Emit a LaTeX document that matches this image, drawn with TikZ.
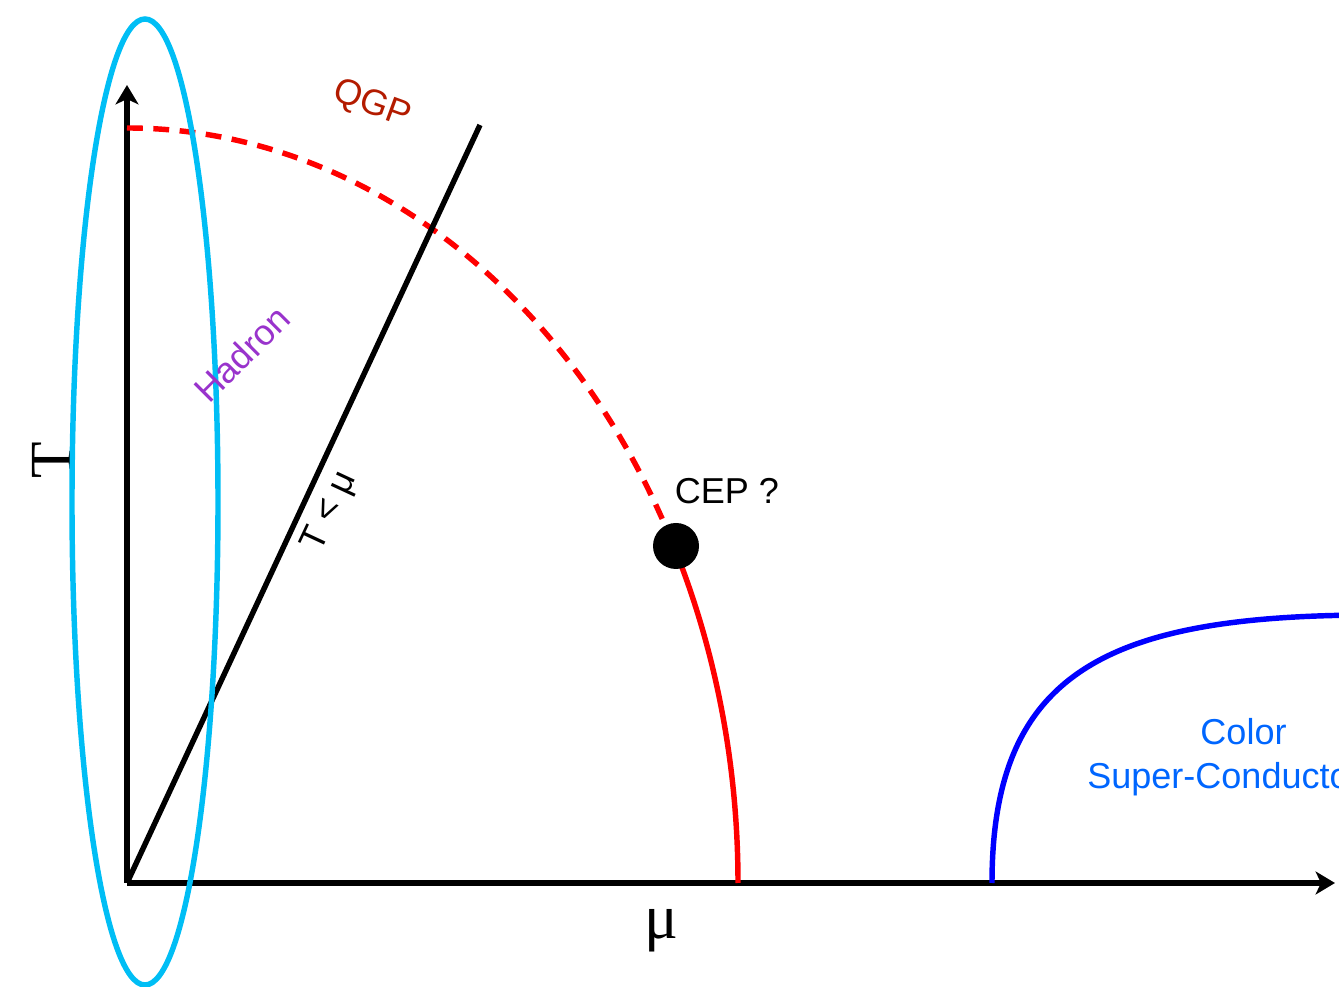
\documentclass[tikz,border=0pt]{standalone}
\usepackage{fontspec}
\setmainfont{Liberation Sans}
\newfontfamily\axisfont{Liberation Serif}
\usetikzlibrary{arrows.meta}

\definecolor{qgpred}{RGB}{179,27,0}
\definecolor{hadronpurple}{RGB}{153,51,204}
\definecolor{ellcyan}{RGB}{0,190,245}
\definecolor{cscblue}{RGB}{0,102,255}

\tikzset{
  axisline/.style={line width=3.1pt, ->},
  bound/.style={line width=3.1pt, red},
  lbl/.style={font=\fontsize{20.5}{25}\selectfont}
}

\begin{document}
\begin{tikzpicture}[>={Stealth[length=11pt,width=13pt,inset=3pt]}]
                \path[use as bounding box, clip] (0,0) rectangle (26.78,19.74);

                \coordinate (O) at (2.54,2.08);
                \coordinate (Ttop) at (2.54,18.04);
                \coordinate (Mend) at (26.7,2.08);
                \coordinate (Lend) at (9.6,17.24);

                % axes
                \draw[axisline] (O) -- (Ttop);
                \draw[axisline] (O) -- (Mend);
                \node[rotate=90, font=\axisfont\fontsize{34}{40}\selectfont] (Tlab) at (1.04,10.54) {T};
                \node[font=\axisfont\fontsize{36}{40}\selectfont] (mulab) at (13.22,1.12) {μ};

                % phase boundary
                \draw[bound, dash pattern=on 9pt off 6pt, shift={(O)}] (0,15.1) arc[start angle=90, end angle=26.3, x radius=12.22, y radius=15.1];
                \draw[bound, shift={(O)}] (26.3:12.22 and 15.1) arc[start angle=26.3, end angle=0, x radius=12.22, y radius=15.1];
                \node[circle, fill=black, minimum size=0.92cm, inner sep=0pt] (cep) at (13.52,8.82) {};
                \node[lbl] (ceplab) at (14.54,9.92) {CEP ?};

                % T < mu line
                \draw[line width=3.1pt] (O) -- (Lend);
                \node[lbl, rotate=65] (tmu) at (6.6,9.5) {T < μ};

                % color superconductor
                \draw[line width=3.1pt, blue] (19.84,2.08) .. controls (19.84,6.34) and (22.2,7.44) .. (27.5,7.44);
                \node[lbl, cscblue, align=center] (csc) at (24.49,4.6) {\hspace*{0.76cm}Color\\Super-Conductor};

                % hadron region
                \draw[line width=3.1pt, ellcyan] (2.9,9.7) ellipse (1.46 and 9.66);
                \node[lbl, hadronpurple, rotate=45] (had) at (4.84,12.66) {Hadron};
                \node[lbl, qgpred, rotate=-20] (qgp) at (7.44,17.64) {QGP};
            \end{tikzpicture}
\end{document}
